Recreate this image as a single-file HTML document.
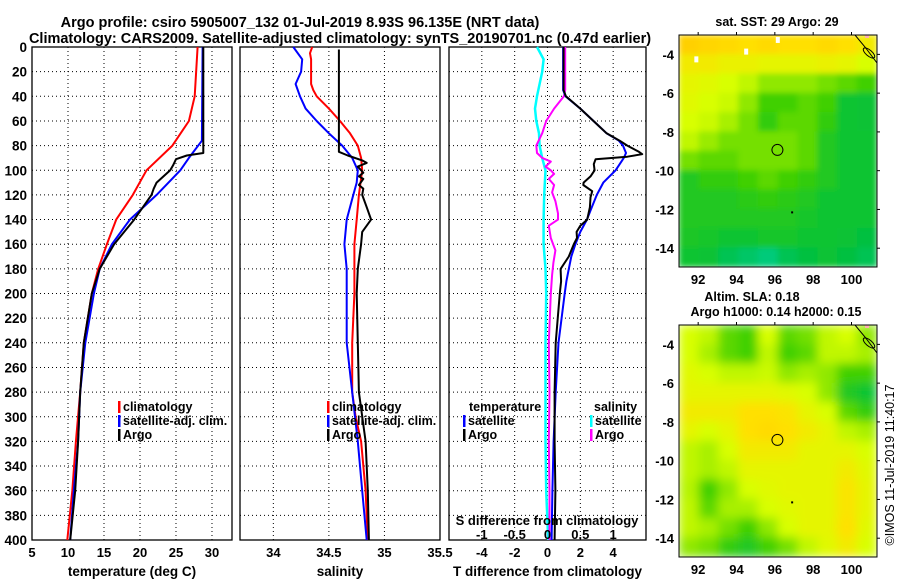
<!DOCTYPE html>
<html><head><meta charset="utf-8"><style>
html,body{margin:0;padding:0;background:#fff;}
svg{display:block;font-family:"Liberation Sans",sans-serif;font-weight:bold;}
</style></head><body>
<svg id="c" width="900" height="580" viewBox="0 0 900 580">
<defs>
<filter id="blur2" x="0" y="0" width="1" height="1"><feGaussianBlur stdDeviation="5"/></filter>
<filter id="blur1" x="0" y="0" width="1" height="1"><feGaussianBlur stdDeviation="3"/></filter>
<clipPath id="clipm1"><rect x="679" y="35" width="198" height="232"/></clipPath>
<clipPath id="clipm2"><rect x="679" y="325" width="198" height="232"/></clipPath>
</defs>
<text x="300" y="27" font-size="14.5" text-anchor="middle">Argo profile: csiro 5905007_132 01-Jul-2019 8.93S 96.135E (NRT data)</text>
<text x="340" y="43" font-size="14.5" text-anchor="middle">Climatology: CARS2009. Satellite-adjusted climatology: synTS_20190701.nc (0.47d earlier)</text>
<g id="layer"></g>
</svg>
<script>
// ---- depth axis ----
const depthTicks = [0,20,40,60,80,100,120,140,160,180,200,220,240,260,280,300,320,340,360,380,400];
// ---- temperature panel ----
const tTicks = [5,10,15,20,25,30];
const tClimD = [0,40,60,80,100,120,140,160,180,200,240,280,320,360,400];
const tClimV = [28.0,27.6,26.8,24.5,20.9,19.0,16.7,15.4,14.2,13.3,12.2,11.7,11.1,10.6,9.9];
const tSatD = [0,76,90,100,120,140,160,180,200,240,280,320,360,400];
const tSatV = [28.7,28.6,26.8,25.6,22.3,18.6,16.1,14.4,13.6,12.4,11.7,11.4,10.8,10.3];
const tArgoD = [0,86,88,91,96,100,110,115,120,140,160,180,200,240,280,320,360,400];
const tArgoV = [28.8,28.8,26.5,25.0,24.6,24.2,22.3,21.9,21.6,19.2,16.4,14.4,13.3,12.2,11.7,11.4,11.0,10.3];
// ---- salinity panel ----
const sTicks = [34,34.5,35,35.5];
const sTickLabels = ["34","34.5","35","35.5"];
const sClimD = [0,5,10,30,35,40,50,60,70,80,90,100,120,140,160,200,240,280,300,320,360,400];
const sClimV = [34.35,34.33,34.34,34.34,34.36,34.39,34.5,34.6,34.69,34.76,34.79,34.8,34.77,34.75,34.73,34.73,34.71,34.71,34.74,34.79,34.83,34.85];
const sSatD = [0,10,20,30,40,50,60,70,80,90,100,110,120,140,160,180,240,280,320,360,400];
const sSatV = [34.18,34.26,34.25,34.2,34.24,34.29,34.39,34.5,34.62,34.71,34.76,34.75,34.72,34.66,34.64,34.66,34.66,34.71,34.76,34.8,34.84];
const sArgoD = [2,85,88,92,94,97,102,105,107,112,115,120,130,140,150,160,180,200,240,280,320,360,400];
const sArgoV = [34.59,34.59,34.67,34.8,34.84,34.76,34.81,34.77,34.81,34.77,34.81,34.8,34.84,34.88,34.8,34.79,34.76,34.75,34.76,34.77,34.83,34.85,34.86];
// ---- difference panel ----
const dTicks = [-4,-2,0,2,4];
const dsTicks = [-1,-0.5,0,0.5,1];
const dsTickLabels = ["-1","-0.5","0","0.5","1"];
const dtSatD = [0,35,40,50,60,70,76,80,86,90,100,110,120,130,140,150,160,170,180,190,200,240,280,320,360,400];
const dtSatV = [0.95,0.95,1.1,2.0,2.8,3.6,4.35,4.6,4.78,4.65,4.15,3.4,3.0,2.7,2.4,2.0,1.7,1.45,1.3,1.15,1.05,0.67,0.5,0.37,0.3,0.25];
const dtArgoD = [0,35,40,50,60,70,76,80,85,87,89,91,95,100,105,110,112,117,122,130,140,145,150,155,160,170,180,190,200,240,280,320,360,400];
const dtArgoV = [0.98,0.98,1.12,2.0,2.8,3.6,4.4,4.86,5.57,5.77,4.86,2.93,2.82,2.87,2.62,2.2,2.18,2.72,2.62,2.58,2.42,2.0,1.77,1.8,1.6,1.3,0.8,0.83,0.75,0.5,0.43,0.43,0.48,0.43];
const dsSatD = [0,10,20,30,40,50,60,70,80,90,100,120,140,160,180,200,240,280,320,360,400];
const dsSatV = [-0.16,-0.06,-0.08,-0.12,-0.16,-0.19,-0.17,-0.13,-0.12,-0.08,-0.03,-0.05,-0.06,-0.06,-0.03,-0.02,-0.03,-0.03,-0.03,-0.02,0.01];
const dsArgoD = [0,35,40,50,60,70,80,86,90,93,97,100,103,107,112,118,125,135,140,145,155,165,175,185,200,240,280,320,360,400];
const dsArgoV = [0.27,0.27,0.25,0.1,-0.02,-0.08,-0.17,-0.16,-0.08,0.05,-0.03,0.05,0.1,0.02,0.1,0.07,0.12,0.16,0.16,0.02,0.05,0.12,0.09,0.07,0.05,0.02,0.03,0.02,0.03,0.03];
// ---- maps ----
const lonTicks = [92,94,96,98,100];
const latTicks = [-4,-6,-8,-10,-12,-14];
const sstGrid = [
[0.95,0.93,0.92,0.9,0.92,0.9,0.9,0.92,0.9,0.85],
[0.85,0.85,0.82,0.82,0.8,0.8,0.8,0.82,0.8,0.75],
[0.8,0.78,0.75,0.7,0.6,0.6,0.6,0.55,0.5,0.45],
[0.78,0.75,0.72,0.6,0.45,0.45,0.5,0.45,0.3,0.28],
[0.75,0.72,0.65,0.55,0.4,0.5,0.5,0.4,0.3,0.28],
[0.7,0.62,0.55,0.55,0.55,0.55,0.5,0.35,0.3,0.3],
[0.55,0.5,0.5,0.55,0.55,0.55,0.5,0.35,0.3,0.3],
[0.35,0.4,0.4,0.45,0.5,0.45,0.4,0.35,0.3,0.3],
[0.35,0.35,0.35,0.38,0.4,0.38,0.35,0.3,0.3,0.3],
[0.35,0.35,0.35,0.35,0.35,0.35,0.32,0.3,0.3,0.3],
[0.33,0.32,0.3,0.3,0.32,0.32,0.3,0.3,0.28,0.25],
[0.3,0.28,0.2,0.15,0.1,0.2,0.25,0.28,0.25,0.2]];
const slaGrid = [
[0.75,0.7,0.5,0.45,0.75,0.5,0.55,0.7,0.75,0.6],
[0.75,0.65,0.5,0.45,0.7,0.45,0.5,0.7,0.7,0.65],
[0.78,0.75,0.7,0.7,0.72,0.6,0.65,0.6,0.45,0.45],
[0.8,0.8,0.8,0.8,0.8,0.78,0.75,0.6,0.35,0.3],
[0.85,0.85,0.85,0.9,0.9,0.88,0.8,0.75,0.5,0.4],
[0.8,0.75,0.8,0.9,0.92,0.9,0.85,0.8,0.7,0.65],
[0.7,0.65,0.75,0.85,0.85,0.85,0.8,0.8,0.8,0.75],
[0.7,0.65,0.7,0.8,0.8,0.8,0.8,0.8,0.85,0.78],
[0.68,0.45,0.6,0.75,0.78,0.8,0.8,0.8,0.88,0.8],
[0.7,0.5,0.65,0.65,0.75,0.78,0.8,0.8,0.88,0.8],
[0.7,0.65,0.55,0.45,0.6,0.75,0.8,0.8,0.9,0.78],
[0.6,0.55,0.4,0.35,0.45,0.55,0.7,0.78,0.85,0.75]];
const argoLon = 96.135, argoLat = -8.93;

const NS="http://www.w3.org/2000/svg";
const layer=document.getElementById('layer');
function mk(tag,attrs,parent){const e=document.createElementNS(NS,tag);for(const k in attrs)e.setAttribute(k,attrs[k]);(parent||layer).appendChild(e);return e;}
const PT=47,PB=540;
function yD(d){return PT+d*(PB-PT)/400;}
function scale(d0,d1,x0,x1){return v=>x0+(v-d0)*(x1-x0)/(d1-d0);}
const xT=scale(5,32.78,32,232), xS=scale(33.7,35.5,240,440), xDT=scale(-6,6,449,646), xDS=scale(-1.5,1.5,449,646);

function panel(name,x0,x1,xs,ticks,labels,title){
  const g=mk('g',{});
  
  
  depthTicks.forEach(d=>{ if(d>0&&d<400){const l=mk('line',{x1:x0,x2:x1,y1:yD(d),y2:yD(d),stroke:'#000','stroke-width':1,'stroke-dasharray':'1,3'},g);
    
    }});
  ticks.forEach((t,i)=>{const x=xs(t);
    if(x>x0+2&&x<x1-2){const l=mk('line',{x1:x,x2:x,y1:PT,y2:PB,stroke:'#000','stroke-width':1,'stroke-dasharray':'1,3'},g);
      
      }
    const tx=mk('text',{x:x,y:PB+17,'font-size':13,'text-anchor':'middle'},g);tx.textContent=labels?labels[i]:String(t);
    
    
  });
  const r=mk('rect',{x:x0,y:PT,width:x1-x0,height:PB-PT,fill:'none',stroke:'#000','stroke-width':1.3},g);
  
  
  const tt=mk('text',{x:(x0+x1)/2,y:576,'font-size':13.5,'text-anchor':'middle'},g);tt.textContent=title;
  
  
  return g;
}
function series(name,D,V,xs,color,w){
  const p=D.map((d,i)=>xs(V[i]).toFixed(1)+','+yD(d).toFixed(1)).join(' ');
  const e=mk('polyline',{points:p,fill:'none',stroke:color,'stroke-width':w||2,'stroke-linejoin':'round'});
  
  
}
depthTicks.forEach(d=>{const t=mk('text',{x:27,y:yD(d)+5,'font-size':13.5,'text-anchor':'end'});t.textContent=d;
  
  });

panel('temperature-panel',32,232,xT,tTicks,null,'temperature (deg C)');
panel('salinity-panel',240,440,xS,sTicks,sTickLabels,'salinity');
panel('difference-panel',449,646,xDT,dTicks,null,'T difference from climatology');

series('temp-climatology-line',tClimD,tClimV,xT,'#ff0000',2);
series('temp-satellite-line',tSatD,tSatV,xT,'#0000ff',2);
series('temp-argo-line',tArgoD,tArgoV,xT,'#000000',2);
series('sal-climatology-line',sClimD,sClimV,xS,'#ff0000',2);
series('sal-satellite-line',sSatD,sSatV,xS,'#0000ff',2);
series('sal-argo-line',sArgoD,sArgoV,xS,'#000000',2);
series('sdiff-satellite-line',dsSatD,dsSatV,xDS,'#00ffff',2.5);
series('sdiff-argo-line',dsArgoD,dsArgoV,xDS,'#ff00ff',2);
series('tdiff-satellite-line',dtSatD,dtSatV,xDT,'#0000ff',2);
series('tdiff-argo-line',dtArgoD,dtArgoV,xDT,'#000000',2);

const sdt=mk('text',{x:547,y:525,'font-size':13,'text-anchor':'middle'});sdt.textContent='S difference from climatology';


dsTicks.forEach((t,i)=>{const tx=mk('text',{x:xDS(t),y:539,'font-size':13,'text-anchor':'middle'});tx.textContent=dsTickLabels[i];
  
  });

function legend(name,x,y,color,label){
  const g=mk('g',{});
  
  
  mk('rect',{x:x,y:y-10,width:2.5,height:12,fill:color},g);
  const t=mk('text',{x:x+5,y:y,'font-size':12.5},g);t.textContent=label;
}
legend('legend-temp-climatology',118,411,'#ff0000','climatology');
legend('legend-temp-satellite',118,425,'#0000ff','satellite-adj. clim.');
legend('legend-temp-argo',118,439,'#000','Argo');
legend('legend-sal-climatology',327,411,'#ff0000','climatology');
legend('legend-sal-satellite',327,425,'#0000ff','satellite-adj. clim.');
legend('legend-sal-argo',327,439,'#000','Argo');
const lt1=mk('text',{x:469,y:411,'font-size':12.5});lt1.textContent='temperature';


const lt2=mk('text',{x:594,y:411,'font-size':12.5});lt2.textContent='salinity';


legend('legend-tdiff-satellite',463,425,'#0000ff','satellite');
legend('legend-tdiff-argo',463,439,'#000','Argo');
legend('legend-sdiff-satellite',590,425,'#00ffff','satellite');
legend('legend-sdiff-argo',590,439,'#ff00ff','Argo');

function cmap(v){
  const stops=[[0,[0,208,160]],[0.25,[0,192,64]],[0.45,[64,208,0]],[0.6,[144,232,0]],[0.75,[216,255,0]],[0.9,[255,224,0]],[1,[255,192,0]]];
  for(let i=1;i<stops.length;i++){if(v<=stops[i][0]){const a=stops[i-1],b=stops[i],f=(v-a[0])/(b[0]-a[0]);
    return 'rgb('+a[1].map((c,k)=>Math.round(c+(b[1][k]-c)*f)).join(',')+')';}}
  return 'rgb(255,192,0)';
}
function map(name,top,grid,title1,title1y,title2,blurId){
  const L=679,R=877,B=top+232;
  const xL=scale(91,101.33,L,R), yL=scale(-3,-14.97,top,B);
  const g=mk('g',{});
  
  
  const cg=mk('g',{'clip-path':'url(#clipm'+(top<100?1:2)+')'},g);
  const inner=mk('g',{filter:'url(#'+blurId+')'},cg);
  const rows=grid.length, cols=grid[0].length;
  const cw=(R-L)/cols, ch=(B-top)/rows;
  mk('rect',{x:L,y:top,width:R-L,height:B-top,fill:cmap(grid[0][0])},inner);
  grid.forEach((row,r)=>row.forEach((v,c)=>{
    const cell=mk('rect',{x:L+c*cw-0.3,y:top+r*ch-0.3,width:cw+0.6,height:ch+0.6,fill:cmap(v)},inner);
    
    
  }));
  mk('path',{d:`M${R-22},${top} L${R-12},${top+12} L${R},${top+28}`,fill:'none',stroke:'#000','stroke-width':1},cg);
  mk('ellipse',{cx:R-8,cy:top+18,rx:7,ry:3,transform:`rotate(40 ${R-8} ${top+18})`,fill:'none',stroke:'#000','stroke-width':1},cg);
  mk('rect',{x:R-12,y:top,width:4,height:3,fill:'#ffb0b0'},cg);
  mk('rect',{x:xL(96.85),y:yL(-12.1),width:2,height:2,fill:'#000'},cg);
  const c=mk('circle',{cx:xL(argoLon),cy:yL(argoLat),r:5.5,fill:'none',stroke:'#000','stroke-width':1},g);
  
  
  mk('rect',{x:L,y:top,width:R-L,height:B-top,fill:'none',stroke:'#000','stroke-width':1},g);
  lonTicks.forEach(t=>{const x=xL(t);
    mk('line',{x1:x,x2:x,y1:top,y2:top-3,stroke:'#000'},g);
    const tx=mk('text',{x:x,y:B+17,'font-size':13,'text-anchor':'middle'},g);tx.textContent=t;
    
    });
  latTicks.forEach(t=>{const y=yL(t);
    mk('line',{x1:R,x2:R+3,y1:y,y2:y,stroke:'#000'},g);
    const tx=mk('text',{x:674,y:y+5,'font-size':13,'text-anchor':'end'},g);tx.textContent=t;
    
    });
  const t1=mk('text',{x:title2?752:777,y:title1y,'font-size':12.5,'text-anchor':'middle'},g);t1.textContent=title1;
  
  
  if(title2){const t2=mk('text',{x:776,y:title1y+15,'font-size':12.5,'text-anchor':'middle'},g);t2.textContent=title2;
    
    }
  return g;
}
map('sst-map',35,sstGrid,'sat. SST: 29 Argo: 29',26,null,'blur1');
[[91.8,-4.1],[94.4,-3.7],[96.05,-3.1]].forEach(p=>{const r=mk('rect',{x:679+(p[0]-91)*19.17,y:35+(-3-p[1])*19.43,width:4,height:6,fill:'#fff'});
  
  });
map('sla-map',325,slaGrid,'Altim. SLA: 0.18',301,'Argo h1000: 0.14 h2000: 0.15','blur2');

const stamp=mk('text',{x:0,y:0,'font-size':12.5,'font-weight':'normal','text-anchor':'middle',transform:'translate(894,465) rotate(-90)'});
stamp.textContent='©IMOS 11-Jul-2019 11:40:17';


</script>
</body></html>
